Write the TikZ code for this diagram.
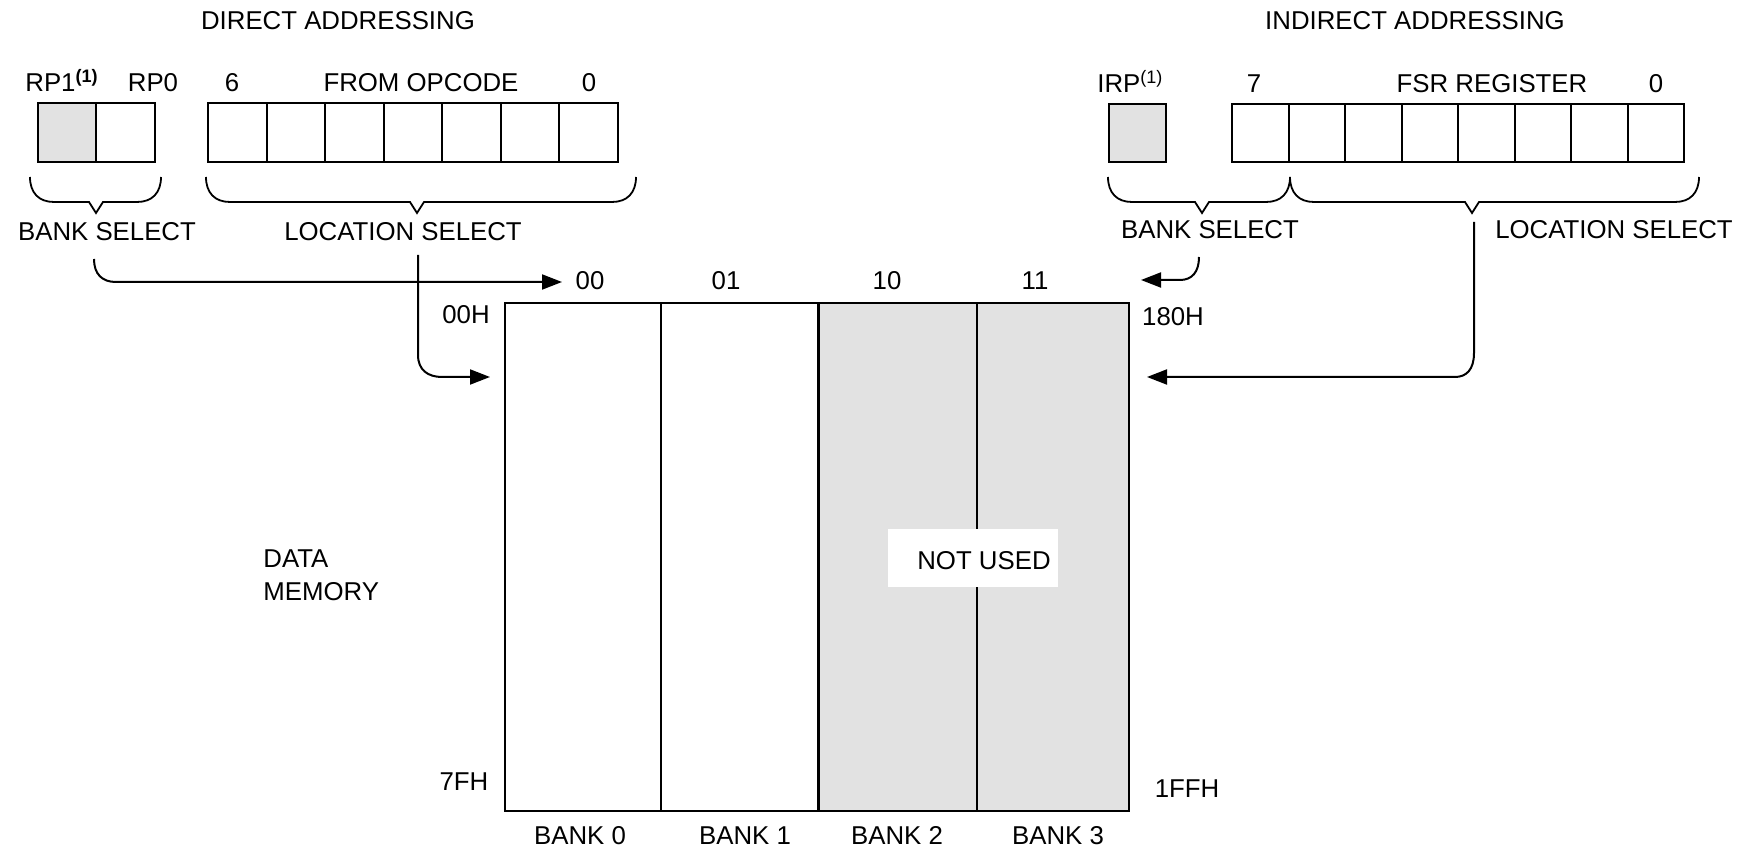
\documentclass[tikz,border=0pt]{standalone}
\usepackage{fontspec}
\setmainfont{Liberation Sans}
\usetikzlibrary{arrows.meta}
\definecolor{cellgray}{HTML}{E2E2E2}
\tikzset{
  lbl/.style={inner sep=0pt, text height=0.72em, text depth=0pt, font=\fontsize{12.9}{15}\selectfont},
  lbll/.style={lbl, anchor=west},
  reg/.style={draw=black, line width=1pt},
  bracepath/.style={draw=black, line width=0.9pt},
  arr/.style={draw=black, line width=1pt, -{Triangle[length=10pt,width=7.5pt]}},
  conn/.style={draw=black, line width=1pt},
}
\newcommand{\mybrace}[4]{% x1 x2 xtip name
  \draw[bracepath] (#1,177) .. controls (#1,193) and (#1+9,202) .. (#1+24,202)
     -- (#3-7,202) -- (#3,213) coordinate (#4) -- (#3+7,202) -- (#2-24,202)
     .. controls (#2-9,202) and (#2,193) .. (#2,177);
}
\begin{document}
\begin{tikzpicture}[x=0.5pt,y=-0.5pt]
\useasboundingbox (0,0) rectangle (1752,849);

% titles
\node[lbl] (tdir) at (338,22) {DIRECT ADDRESSING};
\node[lbl] (tind) at (1415,22) {INDIRECT ADDRESSING};

% ---------- direct register ----------
\node[lbll] (rp1) at (25,84) {RP1\textsuperscript{\textbf{(1)}}};
\node[lbl] (rp0) at (153,84) {RP0};
\node[lbl] (b6) at (232,84) {6};
\node[lbl] (fop) at (421,84) {FROM OPCODE};
\node[lbl] (b0a) at (589,84) {0};

\fill[cellgray] (38,103) rectangle (96,162);
\draw[reg] (38,103) rectangle (155,162);
\draw[reg] (96,103) -- (96,162);
\draw[reg] (208,103) rectangle (618,162);
\foreach \i in {1,...,6} \draw[reg] ({208+\i*410/7},103) -- ({208+\i*410/7},162);

\mybrace{30}{161}{96}{tipA}
\mybrace{206}{636}{417}{tipB}

\node[lbl] (bsA) at (107,233) {BANK SELECT};
\node[lbl] (lsA) at (403,233) {LOCATION SELECT};

% ---------- indirect register ----------
\node[lbll] (irp) at (1097,85) {IRP\textsuperscript{(1)}};
\node[lbl] (b7) at (1254,85) {7};
\node[lbl] (fsr) at (1492,85) {FSR REGISTER};
\node[lbl] (b0b) at (1656,85) {0};

\fill[cellgray] (1109,104) rectangle (1166,162);
\draw[reg] (1109,104) rectangle (1166,162);
\draw[reg] (1232,104) rectangle (1684,162);
\foreach \i in {1,...,7} \draw[reg] ({1232+\i*452/8},104) -- ({1232+\i*452/8},162);

\mybrace{1108}{1290}{1202}{tipC}
\mybrace{1290}{1699}{1472}{tipD}

\node[lbl] (bsB) at (1210,231) {BANK SELECT};
\node[lbl] (lsB) at (1614,231) {LOCATION SELECT};

% ---------- data memory ----------
\fill[cellgray] (818,303) rectangle (1129,811);
\draw[reg] (505,303) rectangle (1129,811);
\draw[reg] (661,303) -- (661,811);
\draw[draw=black, line width=1.5pt] (818,303) -- (818,811);
\draw[reg] (977,303) -- (977,811);

\node[fill=white, inner sep=0pt, minimum width=85pt, minimum height=29pt] (nubox) at (973,558) {};
\node[lbl] (nu) at (984,562) {NOT USED};

\node[lbl] (c00) at (590,282) {00};
\node[lbl] (c01) at (726,282) {01};
\node[lbl] (c10) at (887,282) {10};
\node[lbl] (c11) at (1035,282) {11};

\node[lbl] (a00h) at (466,316) {00H};
\node[lbl] (a180h) at (1173,318) {180H};
\node[lbl] (a7fh) at (464,783) {7FH};
\node[lbl] (a1ffh) at (1187,790) {1FFH};

\node[lbl] (bk0) at (580,837) {BANK 0};
\node[lbl] (bk1) at (745,837) {BANK 1};
\node[lbl] (bk2) at (897,837) {BANK 2};
\node[lbl] (bk3) at (1058,837) {BANK 3};

\node[lbll] (dm1) at (263,560) {DATA};
\node[lbll] (dm2) at (263,593) {MEMORY};

% ---------- connectors ----------
\coordinate (pA) at (94,259);
\coordinate (eA) at (562,282);
\coordinate (pB) at (418,255);
\coordinate (eB) at (490,377);
\coordinate (pC) at (1199,257);
\coordinate (eC) at (1141,280);
\coordinate (pD) at (1474,222);
\coordinate (eD) at (1147,377);

\draw[arr] (pA) .. controls (94,274) and (102,282) .. (116,282) -- (eA);
\draw[arr] (pB) -- (418,355) .. controls (418,370) and (428,377) .. (442,377) -- (eB);
\draw[arr] (pC) .. controls (1199,272) and (1192,280) .. (1180,280) -- (eC);
\draw[arr] (pD) -- (1474,353) .. controls (1474,370) and (1466,377) .. (1455,377) -- (eD);

\end{tikzpicture}
\end{document}
